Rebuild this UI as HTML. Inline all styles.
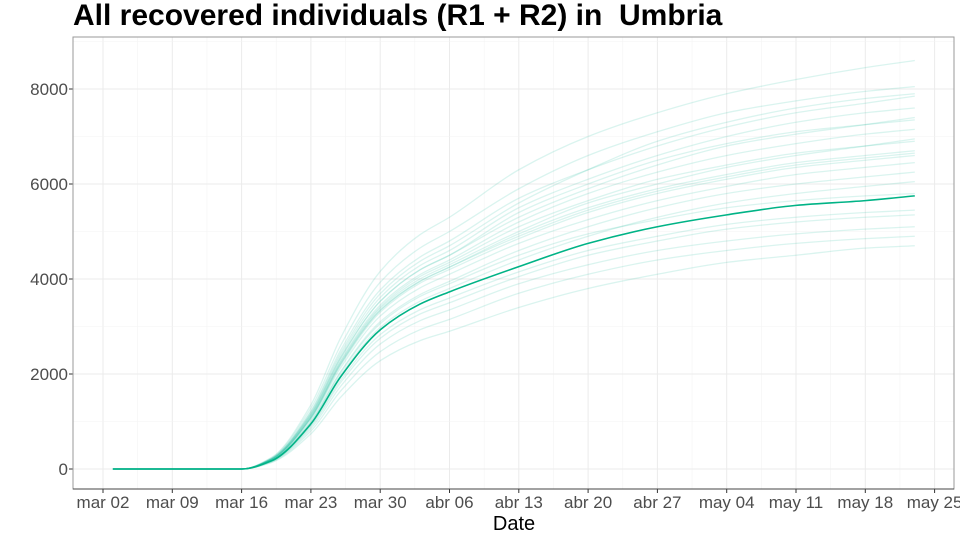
<!DOCTYPE html>
<html><head><meta charset="utf-8"><style>
body{margin:0;background:#fff;font-family:"Liberation Sans",sans-serif}
</style></head><body>
<svg id="c" width="960" height="540" xmlns="http://www.w3.org/2000/svg">
<text x="73" y="25" font-size="30" font-weight="bold" fill="#000" xml:space="preserve">All recovered individuals (R1 + R2) in &#160;Umbria</text>
<g id="grid"></g><g id="lines"></g><g id="axes"></g>
<text x="514" y="530" font-size="20" text-anchor="middle" fill="#000">Date</text>
</svg>
<script>
const xTickLabels=["mar 02","mar 09","mar 16","mar 23","mar 30","abr 06","abr 13","abr 20","abr 27","may 04","may 11","may 18","may 25"];
const yTicks=[0,2000,4000,6000,8000];
const days=[1,14,17,21,24,28,32,35,42,49,56,63,70,77,82];
const mainSeries=[0,0,170,950,1940,2930,3470,3730,4260,4750,5100,5350,5550,5650,5750];
const ensemble=[
[0,0,240,1350,2760,4160,4930,5300,6300,7000,7500,7900,8200,8450,8600],
[0,0,230,1280,2600,3930,4650,5000,5900,6600,7100,7500,7750,7950,8050],
[0,0,220,1220,2500,3770,4460,4800,5700,6300,6800,7200,7500,7700,7850],
[0,0,210,1150,2340,3530,4190,4500,5400,6000,6500,6850,7100,7250,7350],
[0,0,200,1120,2290,3450,4090,4400,5200,5800,6250,6600,6850,7050,7150],
[0,0,200,1100,2240,3380,4000,4300,5000,5600,6000,6350,6600,6800,6950],
[0,0,195,1080,2210,3340,3950,4250,4900,5450,5850,6150,6400,6550,6650],
[0,0,195,1070,2180,3300,3910,4200,4850,5400,5800,6100,6350,6500,6600],
[0,0,190,1050,2130,3220,3810,4100,4750,5250,5650,5950,6200,6350,6450],
[0,0,180,1010,2050,3100,3670,3950,4600,5100,5500,5800,6000,6150,6250],
[0,0,175,970,1980,2980,3530,3800,4400,4900,5300,5600,5800,5950,6050],
[0,0,165,920,1870,2830,3350,3600,4150,4600,4900,5150,5300,5400,5450],
[0,0,160,890,1820,2750,3260,3500,4050,4500,4800,5050,5200,5300,5350],
[0,0,155,850,1740,2630,3120,3350,3900,4300,4600,4800,4950,5050,5100],
[0,0,145,800,1640,2470,2930,3150,3700,4100,4400,4600,4750,4850,4900],
[0,0,135,740,1510,2280,2700,2900,3400,3800,4100,4350,4500,4650,4700],
[0,0,210,1170,2390,3610,4280,4600,5500,6100,6600,7000,7300,7500,7600],
[0,0,195,1080,2210,3340,3950,4250,4950,5500,5900,6200,6450,6600,6700],
[0,0,180,990,2030,3060,3630,3900,4500,4950,5250,5500,5650,5750,5800],
[0,0,210,1150,2340,3530,4190,4500,5300,5900,6400,6800,7050,7250,7400],
[0,0,215,1200,2440,3690,4370,4700,5600,6300,6900,7300,7600,7800,7900],
[0,0,200,1110,2260,3410,4050,4350,5100,5650,6100,6400,6650,6800,6900]
];
const X0=73,X1=954,Y0=37,Y1=489;
const x=d=>103+d*9.9;
const y=v=>469-v*0.0475;
const ns="http://www.w3.org/2000/svg";
function mk(t,a,p){const e=document.createElementNS(ns,t);for(const k in a)e.setAttribute(k,a[k]);p.appendChild(e);return e;}
const G=document.getElementById('grid'),L=document.getElementById('lines'),A=document.getElementById('axes');
mk('rect',{x:X0,y:Y0,width:X1-X0,height:Y1-Y0,fill:'#fff'},G);
for(let i=0;i<xTickLabels.length;i++){
 const xv=x(i*7);
 const g=mk('line',{x1:xv,x2:xv,y1:Y0,y2:Y1,stroke:'#ebebeb','stroke-width':1},G);
 
 if(i<xTickLabels.length-1){const xm=x(i*7+3.5);mk('line',{x1:xm,x2:xm,y1:Y0,y2:Y1,stroke:'#f4f4f4','stroke-width':0.6},G);}
 mk('line',{x1:xv,x2:xv,y1:Y1,y2:Y1+4,stroke:'#333'},A);
 const t=mk('text',{x:xv,y:Y1+19,'font-size':17,'text-anchor':'middle',fill:'#4d4d4d'},A);
 t.textContent=xTickLabels[i];
 
}
for(const v of yTicks){
 const yv=y(v);
 const g=mk('line',{x1:X0,x2:X1,y1:yv,y2:yv,stroke:'#ebebeb','stroke-width':1},G);
 
 const ym=y(v+1000);if(ym>Y0)mk('line',{x1:X0,x2:X1,y1:ym,y2:ym,stroke:'#f4f4f4','stroke-width':0.6},G);
 mk('line',{x1:X0-4,x2:X0,y1:yv,y2:yv,stroke:'#333'},A);
 const t=mk('text',{x:X0-5,y:yv+6,'font-size':17,'text-anchor':'end',fill:'#4d4d4d'},A);
 t.textContent=v;
 
}
mk('rect',{x:X0,y:Y0,width:X1-X0,height:Y1-Y0,fill:'none',stroke:'#999','stroke-width':1},A);
mk('line',{x1:X0,x2:X1,y1:Y1,y2:Y1,stroke:'#444'},A);
function pathFor(vals){
 const n=days.length,xs=days.map(x),ys=vals.map(y);
 const dx=[],m=[],t=[];
 for(let i=0;i<n-1;i++){dx[i]=xs[i+1]-xs[i];m[i]=(ys[i+1]-ys[i])/dx[i];}
 t[0]=m[0];t[n-1]=m[n-2];
 for(let i=1;i<n-1;i++){t[i]=(m[i-1]*m[i]<=0)?0:3*(dx[i-1]+dx[i])/((2*dx[i]+dx[i-1])/m[i-1]+(dx[i]+2*dx[i-1])/m[i]);}
 let d='M'+xs[0]+','+ys[0];
 for(let i=0;i<n-1;i++){const h=dx[i]/3;d+=' C'+(xs[i]+h)+','+(ys[i]+t[i]*h)+' '+(xs[i+1]-h)+','+(ys[i+1]-t[i+1]*h)+' '+xs[i+1]+','+ys[i+1];}
 return d;
}
ensemble.forEach((s,i)=>{
 const p=mk('path',{d:pathFor(s),fill:'none',stroke:'#1abc9c','stroke-opacity':0.16,'stroke-width':1.3},L);
 
});
const mp=mk('path',{d:pathFor(mainSeries),fill:'none',stroke:'#00b386','stroke-width':1.6},L);

</script>
</body></html>
